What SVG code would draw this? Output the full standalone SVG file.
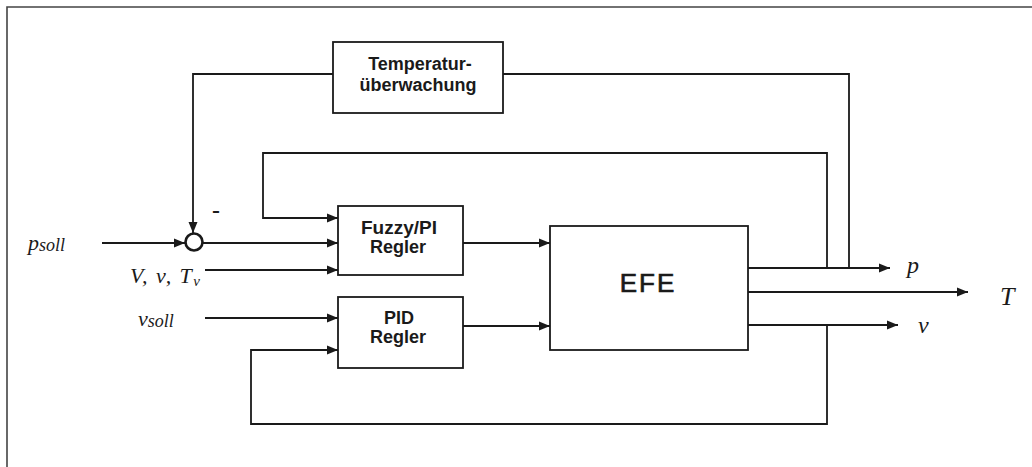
<svg xmlns="http://www.w3.org/2000/svg" width="1032" height="467" viewBox="0 0 1032 467">
<style>
.box{fill:#fff;stroke:#1a1a1a;stroke-width:1.8}
.lbl{font-family:"Liberation Sans",Arial,sans-serif;font-weight:bold;font-size:18px;fill:#1a1a1a;text-anchor:middle}
.big{font-family:"Liberation Sans",Arial,sans-serif;font-size:26px;fill:#1a1a1a;stroke:#1a1a1a;stroke-width:0.7;text-anchor:middle;letter-spacing:2px}
.math{font-family:"Liberation Serif","Times New Roman",serif;font-style:italic;fill:#1a1a1a}
.wire{fill:none;stroke:#1a1a1a;stroke-width:1.8}
.arr{fill:none;stroke:#1a1a1a;stroke-width:1.8;marker-end:url(#ah)}
</style>
<defs>
<marker id="ah" markerUnits="userSpaceOnUse" markerWidth="12" markerHeight="10" refX="11" refY="5" orient="auto">
<path d="M0,0.5 L11,5 L0,9.5 Z" fill="#1a1a1a"/>
</marker>
</defs>
<rect x="0" y="0" width="1032" height="467" fill="#fff"/>
<path d="M7,467 V7 H1032" fill="none" stroke="#444" stroke-width="1.6"/>

<g id="connectors">
<path class="arr" d="M333,74 H193 V233"/>
<path class="wire" d="M503,74 H849 V268"/>
<path class="arr" d="M827,268 V153 H263 V218 H338"/>
<path class="arr" d="M102,243 H185"/>
<path class="arr" d="M203,243 H338"/>
<path class="arr" d="M205,270 H338"/>
<path class="arr" d="M205,318 H338"/>
<path class="arr" d="M827,325 V424 H251 V350 H338"/>
<path class="arr" d="M463,243 H550"/>
<path class="arr" d="M463,326 H550"/>
<path class="arr" d="M748,268 H890"/>
<path class="arr" d="M748,292 H968"/>
<path class="arr" d="M748,325 H898"/>
</g>

<g id="temp">
<rect class="box" x="333" y="42" width="170" height="71"/>
<text class="lbl" x="420" y="70">Temperatur-</text>
<text class="lbl" x="418" y="91">überwachung</text>
</g>

<g id="sum">
<circle cx="194" cy="242" r="8.5" fill="#fff" stroke="#1a1a1a" stroke-width="2.6"/>
<text x="216" y="216" font-family="Liberation Sans,Arial,sans-serif" font-weight="bold" font-size="16" fill="#1a1a1a" text-anchor="middle" textLength="8" lengthAdjust="spacingAndGlyphs">-</text>
</g>

<g id="fuzzy">
<rect class="box" x="338" y="206" width="125" height="69"/>
<text class="lbl" x="399" y="234" textLength="76" lengthAdjust="spacingAndGlyphs">Fuzzy/PI</text>
<text class="lbl" x="398" y="253">Regler</text>
</g>

<g id="pid">
<rect class="box" x="338" y="297" width="125" height="71"/>
<text class="lbl" x="399" y="324">PID</text>
<text class="lbl" x="398" y="343">Regler</text>
</g>

<g id="efe">
<rect class="box" x="550" y="226" width="198" height="124"/>
<text class="big" x="648" y="292">EFE</text>
</g>

<g id="labels">
<text class="math" x="28" y="250" font-size="22">p<tspan font-size="18" dy="1">soll</tspan></text>
<text class="math" x="130" y="283" font-size="22" textLength="70" lengthAdjust="spacing">V, v, T<tspan font-size="15" dy="3">v</tspan></text>
<text class="math" x="138" y="326" font-size="22">v<tspan font-size="18" dy="1">soll</tspan></text>
<text class="math" x="907" y="273" font-size="24">p</text>
<text class="math" x="1000" y="305" font-size="26">T</text>
<text class="math" x="918" y="333" font-size="24">v</text>
</g>
</svg>
